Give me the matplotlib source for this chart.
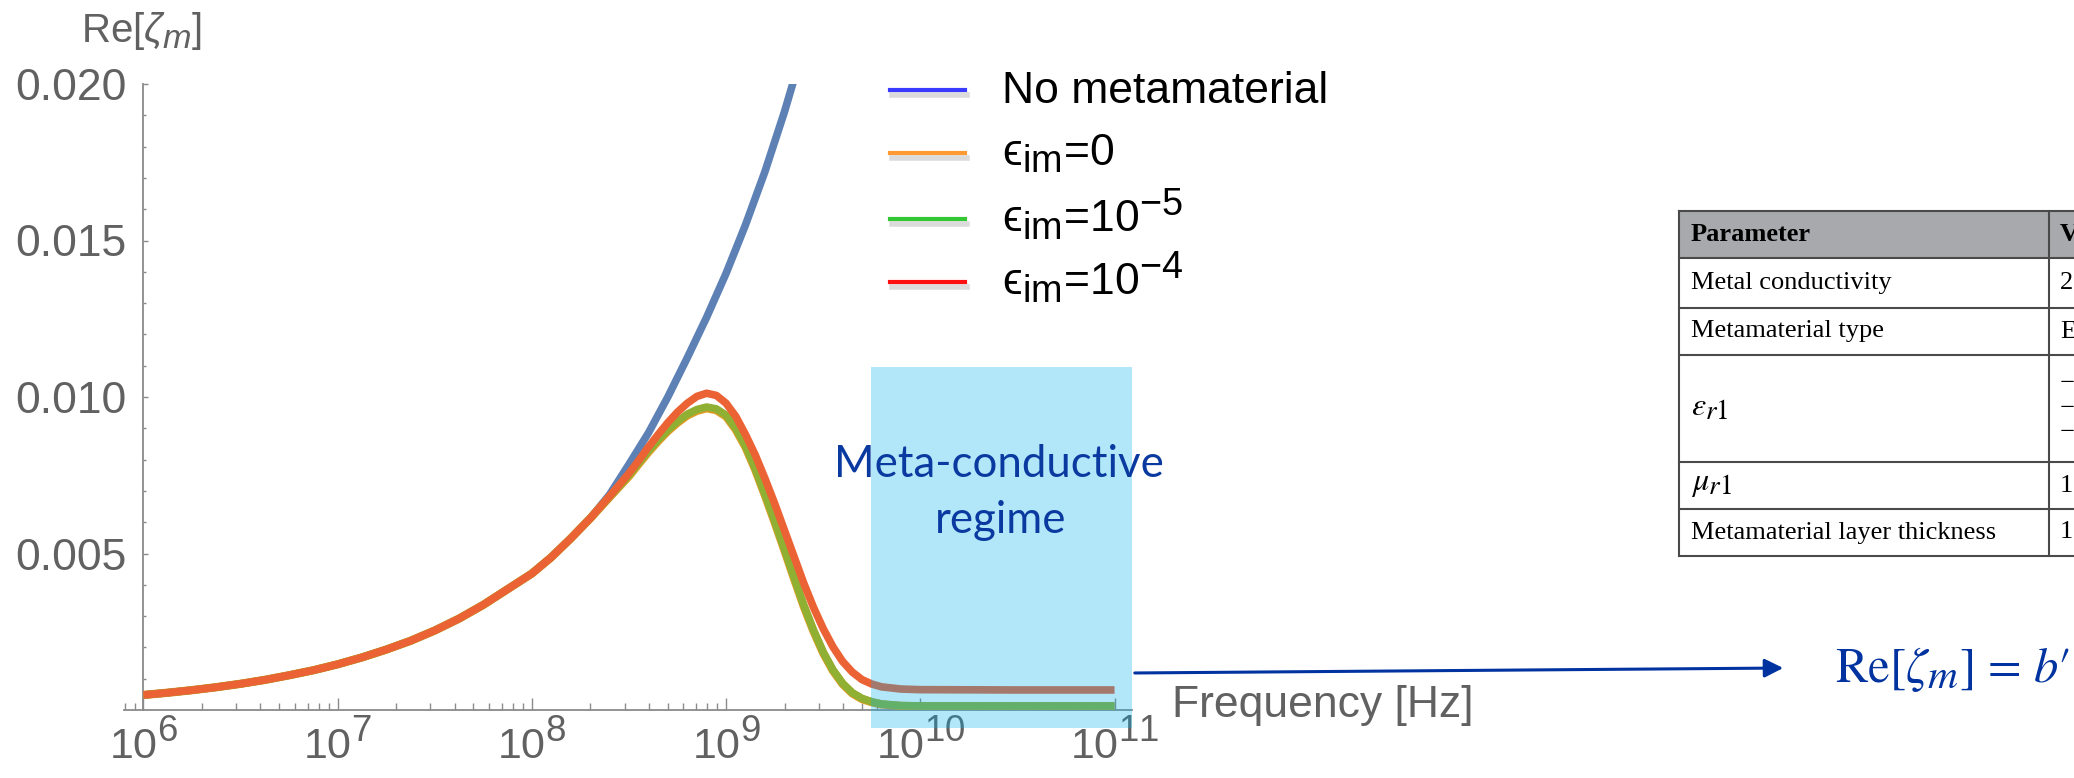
import math
import matplotlib.pyplot as plt
import matplotlib._mathtext as mathtext_mod
from matplotlib.patches import Rectangle, FancyArrowPatch
from matplotlib.lines import Line2D
from matplotlib.ticker import FixedLocator, FuncFormatter, NullFormatter

plt.rcParams['font.family'] = ['Liberation Sans', 'DejaVu Sans']
plt.rcParams['mathtext.fontset'] = 'custom'
plt.rcParams['mathtext.rm'] = 'Liberation Sans'
plt.rcParams['mathtext.it'] = 'Liberation Sans:italic'
plt.rcParams['mathtext.bf'] = 'Liberation Sans:bold'
plt.rcParams['mathtext.fallback'] = 'stixsans'
# expoentes quase do tamanho da base, como no Mathematica
mathtext_mod.SHRINK_FACTOR = 0.85

# valores (log10 da frequencia em Hz)
# trecho de baixa frequencia, onde as quatro curvas coincidem
logf_low = [6.0, 6.125, 6.25, 6.375, 6.5, 6.625, 6.75, 6.875, 7.0, 7.125,
            7.25, 7.375, 7.5, 7.625, 7.75, 7.875, 8.0, 8.1, 8.2, 8.3]
re_low = [0.00048, 0.000552, 0.000634, 0.000728, 0.000837, 0.000962,
          0.00111, 0.00127, 0.00146, 0.00168, 0.00193, 0.00221, 0.00254,
          0.00292, 0.00336, 0.00386, 0.00436, 0.00488, 0.00548, 0.00612]

logf_blue_hi = [8.4, 8.5, 8.6, 8.7, 8.8, 8.9, 9.0, 9.1, 9.2, 9.3, 9.4]
re_blue_hi = [0.00688, 0.00785, 0.00885, 0.01000, 0.01125, 0.01255, 0.01395,
              0.01550, 0.01720, 0.01910, 0.02120]

logf_meta_hi = [8.4, 8.5, 8.55, 8.6, 8.65, 8.7, 8.75, 8.8, 8.85, 8.9, 8.95,
                9.0, 9.05, 9.1, 9.15, 9.2, 9.25, 9.3, 9.35, 9.4, 9.45, 9.5,
                9.55, 9.6, 9.65, 9.7, 9.75, 9.8, 9.9, 10.0, 10.5, 11.0]
re_eps0_hi = [0.00680, 0.00747, 0.00786, 0.00824, 0.00859, 0.00891, 0.00918,
              0.00941, 0.00956, 0.00964, 0.00958, 0.00938, 0.00896, 0.00840,
              0.00768, 0.00686, 0.00600, 0.00511, 0.00420, 0.00331, 0.00252,
              0.00182, 0.00126, 0.00083, 0.00053, 0.00035, 0.00025, 0.00018,
              0.00013, 0.00012, 0.00012, 0.00012]
re_eps5_hi = [0.00681, 0.00750, 0.00790, 0.00828, 0.00863, 0.00895, 0.00922,
              0.00945, 0.00960, 0.00968, 0.00962, 0.00942, 0.00900, 0.00844,
              0.00772, 0.00690, 0.00604, 0.00515, 0.00424, 0.00335, 0.00255,
              0.00185, 0.00128, 0.00085, 0.00055, 0.00037, 0.00026, 0.00019,
              0.00014, 0.00013, 0.00013, 0.00013]
re_eps4_hi = [0.00683, 0.00756, 0.00797, 0.00840, 0.00880, 0.00918, 0.00952,
              0.00980, 0.01002, 0.01012, 0.01005, 0.00980, 0.00938, 0.00880,
              0.00815, 0.00740, 0.00660, 0.00575, 0.00490, 0.00405, 0.00328,
              0.00260, 0.00202, 0.00155, 0.00121, 0.00097, 0.00083, 0.00074,
              0.00067, 0.00065, 0.00064, 0.00064]

legend_labels = ['No metamaterial', 'ϵ$_{\\mathrm{im}}$=0',
                 'ϵ$_{\\mathrm{im}}$=10$^{\\mathrm{-5}}$',
                 'ϵ$_{\\mathrm{im}}$=10$^{\\mathrm{-4}}$']
legend_colors = ['#3b3bff', '#ff9a33', '#33c833', '#ff1010']

table_rows = ['Parameter', 'Metal conductivity', 'Metamaterial type',
              r'$\varepsilon_{r\mathrm{1}}$', r'$\mu_{r\mathrm{1}}$',
              'Metamaterial layer thickness']
table_vals = ['Value', '2', 'E', '\u2212\n\u2212\n\u2212', '1', '1']

W, H = 2074, 778
fx = lambda x: x / W
fy = lambda y: 1 - y / H

fig = plt.figure(figsize=(W / 100, H / 100), dpi=100)
ax = fig.add_axes([fx(124), fy(710), fx(1132) - fx(124), fy(84) - fy(710)])

freq_blue = [10**v for v in logf_low + logf_blue_hi]
freq_meta = [10**v for v in logf_low + logf_meta_hi]
ax.plot(freq_blue, re_low + re_blue_hi, color='#5e81b5', lw=5.5,
        solid_capstyle='butt', zorder=2)
ax.plot(freq_meta, re_low + re_eps0_hi, color='#e19c24', lw=6.0,
        solid_capstyle='butt', zorder=3)
ax.plot(freq_meta, re_low + re_eps5_hi, color='#8fb032', lw=5.5,
        solid_capstyle='butt', zorder=4)
ax.plot(freq_meta, re_low + re_eps4_hi, color='#eb6235', lw=5.5,
        solid_capstyle='butt', zorder=5)

ax.set_xscale('log')
ax.set_xlim(10**5.9, 10**11.09)
ax.set_ylim(0, 0.020)

gray = '#8a8a8a'
for s in ['top', 'right']:
    ax.spines[s].set_visible(False)
ax.spines['left'].set_position(('data', 1e6))
for s in ['left', 'bottom']:
    ax.spines[s].set_color(gray)
    ax.spines[s].set_linewidth(1.3)

ax.xaxis.set_major_locator(FixedLocator([1e6, 1e7, 1e8, 1e9, 1e10, 1e11]))
minors = [m * 10**e for e in range(5, 11) for m in range(2, 10)]
ax.xaxis.set_minor_locator(FixedLocator(minors))
ax.xaxis.set_major_formatter(FuncFormatter(
    lambda v, p: r'$\mathregular{10^{%d}}$' % round(math.log10(v))))
ax.xaxis.set_minor_formatter(NullFormatter())
ax.yaxis.set_major_locator(FixedLocator([0.005, 0.010, 0.015, 0.020]))
ax.yaxis.set_minor_locator(FixedLocator([i / 1000 for i in range(1, 20) if i % 5]))
ax.yaxis.set_major_formatter(FuncFormatter(lambda v, p: '%.3f' % v))

lblc = '#616161'
ax.tick_params(axis='x', which='major', direction='in', length=8.5, width=1.0,
               color=gray, labelsize=31, labelcolor=lblc, pad=7)
ax.tick_params(axis='x', which='minor', direction='in', length=5, width=1.0, color=gray)
ax.tick_params(axis='y', which='major', direction='in', length=3.6, width=1.0,
               color=gray, labelsize=32, labelcolor=lblc, pad=12)
ax.tick_params(axis='y', which='minor', direction='in', length=2.2, width=1.0, color=gray)

# regiao meta-condutiva
ax.add_patch(Rectangle((10**9.746, -0.00058), 10**11.09 - 10**9.746, 0.01154,
                       facecolor='#00b0f0', alpha=0.3, edgecolor='none',
                       clip_on=False, zorder=10))
dblue = '#0a3aa0'
fig.text(fx(999), fy(477), 'Meta-conductive', ha='center', va='baseline',
         fontsize=31.5, color=dblue, family='Lato')
fig.text(fx(1001), fy(533), 'regime', ha='center', va='baseline',
         fontsize=31.5, color=dblue, family='Lato')

# titulos dos eixos
fig.text(fx(142), fy(42), r'Re[$\zeta_m$]', ha='center', va='baseline',
         fontsize=29, color=lblc)
fig.text(fx(1172), fy(705), 'Frequency [Hz]', ha='left', va='center',
         fontsize=32, color=lblc)

# legenda
leg_y = [90, 153, 219, 282]
for yy, c, lab in zip(leg_y, legend_colors, legend_labels):
    fig.add_artist(Line2D([fx(892), fx(967)], [fy(yy + 5), fy(yy + 5)],
                          color='#999999', alpha=0.35, lw=4))
    fig.add_artist(Line2D([fx(890), fx(965)], [fy(yy), fy(yy)], color=c, lw=3))
    fig.text(fx(1002), fy(yy + 13), lab, ha='left', va='baseline',
             fontsize=32, color='black')

# seta e formula
fig.add_artist(FancyArrowPatch((fx(1132), fy(673)), (fx(1786), fy(668)),
                               transform=fig.transFigure, arrowstyle='-|>',
                               mutation_scale=28, color='#0033a0', lw=2.2))
fig.text(fx(2070), fy(682), "Re[$\\zeta_m$] = $b$\u2032", ha='right',
         va='baseline', fontsize=35, color='#0033a0', family='STIXGeneral',
         math_fontfamily='stix')

# tabela
row_y = [211, 258, 308, 355, 462, 509, 556]
x_left, x_div = 1679, 2049
fig.add_artist(Rectangle((fx(x_left), fy(row_y[1])), fx(W + 10) - fx(x_left),
                         fy(row_y[0]) - fy(row_y[1]), transform=fig.transFigure,
                         facecolor='#a7a9ac', edgecolor='none'))
for yy in row_y:
    fig.add_artist(Line2D([fx(x_left), 1.01], [fy(yy), fy(yy)], color='#4a4a4a', lw=1.5))
for xx in [x_left, x_div]:
    fig.add_artist(Line2D([fx(xx), fx(xx)], [fy(row_y[0]), fy(row_y[-1])],
                          color='#4a4a4a', lw=1.5))
for i, (name, val) in enumerate(zip(table_rows, table_vals)):
    yc = fy((row_y[i] + row_y[i + 1]) / 2)
    wt = 'bold' if i == 0 else 'normal'
    fs = 23 if name.startswith('$') else 19
    fig.text(fx(1691), yc, name, ha='left', va='center', fontsize=fs,
             family='Liberation Serif', weight=wt, math_fontfamily='stix')
    fig.text(fx(2060), yc, val, ha='left', va='center', fontsize=19,
             family='Liberation Serif', weight=wt, linespacing=1.15)

fig.savefig('out.png', dpi=100)
